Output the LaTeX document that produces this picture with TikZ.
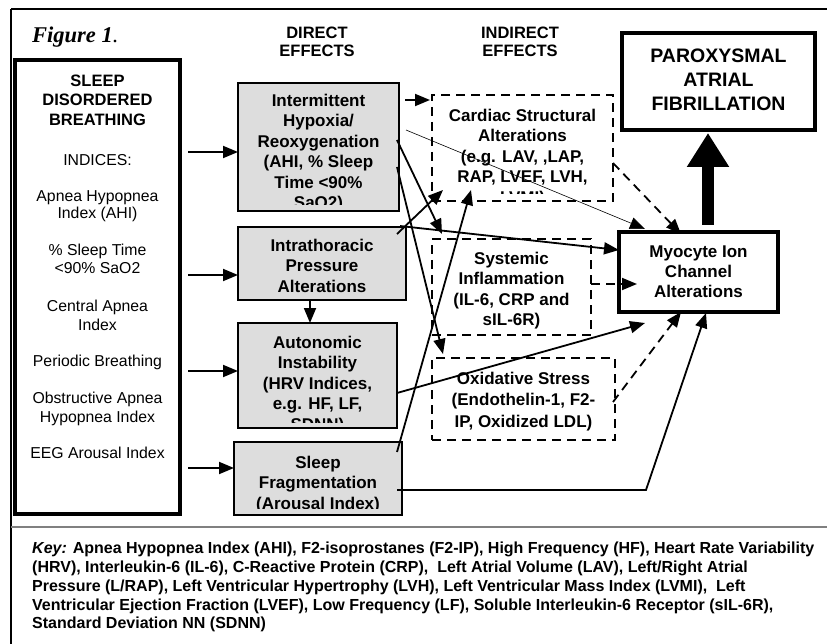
\documentclass[tikz,border=0pt]{standalone}
\usepackage{fontspec}
\setmainfont{Liberation Sans}
\newfontfamily\figfont{Liberation Serif}
\usetikzlibrary{arrows.meta,calc}

\tikzset{
  graybox/.style={draw, line width=2pt, fill=gray!27, inner sep=0pt, outer sep=0pt},
  dashbox/.style={draw, line width=1.8pt, dash pattern=on 9pt off 6pt, inner sep=0pt, outer sep=0pt},
  thickbox/.style={draw, line width=4pt, fill=white, inner sep=0pt, outer sep=0pt},
  boxtext/.style={anchor=north, align=center, inner sep=0pt, font=\bfseries\fontsize{17}{20.5}\selectfont},
  idxtext/.style={anchor=base, inner sep=0pt, font=\fontsize{15.8}{19}\selectfont},
  arr/.style={line width=1.8pt, -{Triangle[length=15pt,width=12pt]}},
  darr/.style={arr, dash pattern=on 9pt off 6pt},
}

\begin{document}
\begin{tikzpicture}[x=1pt,y=-1pt]

  \useasboundingbox (0,0) rectangle (827,644);

  % frame of the figure
  \draw[line width=2pt] (11,9.5) -- (827,9.5);
  \draw[line width=1.5pt] (11,9.5) -- (11,644);
  \draw[gray,line width=2pt] (11,527) -- (827,527);

  \node[anchor=base west, inner sep=0pt, font=\figfont\fontsize{22.5}{26}\selectfont] (fig) at (32,43)
    {\textbf{\textit{Figure 1}}\textit{.}};

  % column heads
  \node[anchor=north, align=center, inner sep=0pt, font=\bfseries\fontsize{16.5}{18}\selectfont] (direct) at (317,25.3)
    {\strut DIRECT\\EFFECTS};
  \node[anchor=north, align=center, inner sep=0pt, font=\bfseries\fontsize{16.5}{18}\selectfont] (indirect) at (520,25.3)
    {\strut INDIRECT\\EFFECTS};

  % sleep disordered breathing box
  \node[draw, line width=3.5pt, inner sep=0pt, outer sep=0pt, minimum width=165pt, minimum height=454pt] (sdb) at (97.5,287) {};
  \node[anchor=north, align=center, inner sep=0pt, font=\bfseries\fontsize{16.5}{19.5}\selectfont] (sdbhead) at (97.5,72.3)
    {\strut SLEEP\\DISORDERED\\BREATHING};
  \foreach \yy/\txt [count=\i] in {160/INDICES:, 196/Apnea Hypopnea, 213/Index (AHI),
      250/\% Sleep Time, 268/<90\% SaO2, 306/Central Apnea, 325/Index,
      361/Periodic Breathing, 398/Obstructive Apnea, 417/Hypopnea Index, 453/EEG Arousal Index}
  {
    \node[idxtext] (idx\i) at (97.5,\yy+5.6) {\txt};
  }

  % direct effects
  \node[graybox, minimum width=161pt, minimum height=128pt] (hyp) at (318.5,147) {};
  \node[graybox, minimum width=168pt, minimum height=73pt] (itp) at (322,263.5) {};
  \node[graybox, minimum width=159pt, minimum height=105pt] (ans) at (317.5,375.5) {};
  \node[graybox, minimum width=168pt, minimum height=73pt] (frag) at (318,478.5) {};

  % indirect effects
  \node[dashbox, minimum width=181pt, minimum height=106pt] (card) at (522.5,148) {};
  \node[dashbox, minimum width=159pt, minimum height=96pt] (infl) at (511.5,287) {};
  \node[dashbox, minimum width=183pt, minimum height=82pt] (oxid) at (523.5,399) {};

  % outcome boxes
  \node[thickbox, minimum width=159pt, minimum height=80pt] (myo) at (698.5,272) {};
  \node[thickbox, minimum width=193pt, minimum height=97pt] (paf) at (718.5,81.5) {};

  % box texts, cut at the lower margin
  \begin{scope}
    \clip ([yshift=6pt]hyp.south west) rectangle (hyp.north east);
    \node[boxtext] (hyptxt) at ([yshift=-8.75pt]hyp.north)
      {\strut Intermittent\\Hypoxia/\\Reoxygenation\\(AHI, \% Sleep\\Time <90\%\\SaO2)};
  \end{scope}
  \node[boxtext] (itptxt) at ([yshift=-9.75pt]itp.north) {\strut Intrathoracic\\Pressure\\Alterations};
  \begin{scope}
    \clip ([yshift=6pt]ans.south west) rectangle (ans.north east);
    \node[boxtext] (anstxt) at ([yshift=-10.75pt]ans.north)
      {\strut Autonomic\\Instability\\(HRV Indices,\\e.g. HF, LF,\\SDNN)};
  \end{scope}
  \begin{scope}
    \clip ([yshift=7pt]frag.south west) rectangle (frag.north east);
    \node[boxtext] (fragtxt) at ([yshift=-11.75pt]frag.north) {\strut Sleep\\Fragmentation\\(Arousal Index)};
  \end{scope}
  \begin{scope}
    \clip ([yshift=7pt]card.south west) rectangle (card.north east);
    \node[boxtext] (cardtxt) at ([yshift=-11.75pt]card.north)
      {\strut Cardiac Structural\\Alterations\\(e.g. LAV, ,LAP,\\RAP, LVEF, LVH,\\LVMI)};
  \end{scope}
  \node[boxtext] (infltxt) at ([yshift=-10.75pt]infl.north) {\strut Systemic\\Inflammation\\(IL-6, CRP and\\sIL-6R)};
  \node[boxtext, font=\bfseries\fontsize{17}{21.5}\selectfont] (oxidtxt) at ([yshift=-10.75pt]oxid.north)
    {\strut Oxidative Stress\\(Endothelin-1, F2-\\IP, Oxidized LDL)};
  \node[boxtext, font=\bfseries\fontsize{17}{20}\selectfont] (myotxt) at ([yshift=-11.25pt]myo.north)
    {\strut Myocyte Ion\\Channel\\Alterations};
  \node[boxtext, font=\bfseries\fontsize{19.5}{24}\selectfont] (paftxt) at ([yshift=-12.2pt]paf.north)
    {\strut PAROXYSMAL\\ATRIAL\\FIBRILLATION};

  % arrows from the indices
  \draw[arr] ($(sdb.east |- hyp.west)+(8,5)$) -- ($(hyp.west)+(0,5)$);
  \draw[arr] ($(sdb.east |- itp.west)+(8,11.5)$) -- ($(itp.west)+(0,11.5)$);
  \draw[arr] ($(sdb.east |- ans.west)+(8,-4.5)$) -- ($(ans.west)+(0,-4.5)$);
  \draw[arr] ($(sdb.east |- frag.west)+(8,-10.5)$) -- ($(frag.west)+(0,-10.5)$);
  \draw[arr] ($(itp.south)+(-12,0)$) -- ($(ans.north)+(-7.5,0)$);

  % direct to indirect effects
  \draw[arr] ($(hyp.north east)+(6,17)$) -- ($(card.north west)+(-2,5)$);
  \draw[arr] ($(hyp.north east)+(-2,57)$) -- ($(infl.north west)+(10,-5)$);
  \draw[arr] ($(hyp.north east)+(-2,84)$) -- ($(oxid.north west)+(11,-4)$);
  \draw[arr] ($(itp.north east)+(-9,7)$) -- ($(card.south west)+(11,-11)$);
  \draw[arr] ($(frag.north east)+(-5,10)$) -- ($(card.south west)+(39,-11)$);

  % into the myocyte box
  \draw[arr, line width=0.6pt] ($(hyp.north east)+(7,47)$) -- ($(myo.north west)+(26,-3)$);
  \draw[arr] ($(itp.north east)+(-6,-1)$) -- ($(myo.north west)+(0,18)$);
  \draw[arr] ($(ans.east)+(0,17.5)$) -- ($(myo.south west)+(26,11)$);
  \draw[arr] ($(frag.east)+(-5,11.5)$) -- ($(frag.east)+(244,11.5)$) -- ($(myo.south)+(7.5,1)$);
  \draw[darr] ($(infl.east)+(0,-3)$) -- ($(myo.west)+(18,12)$);
  \draw[darr] ($(card.east)+(0,15)$) -- ($(myo.north)+(-17.5,2)$);
  \draw[darr] ($(oxid.east)+(-2,3)$) -- ($(myo.south)+(-17.5,0)$);

  % to the outcome
  \draw[line width=12pt, -{Triangle[length=34pt,width=40pt]}] ([xshift=9.5pt,yshift=7pt]myo.north) -- ([xshift=-10.5pt,yshift=-3pt]paf.south);

  % key
  \node[anchor=north west, align=left, inner sep=0pt, font=\bfseries\fontsize{16}{18.75}\selectfont] (key) at (32,540.6)
    {\strut\textit{Key:} Apnea Hypopnea Index (AHI), F2-isoprostanes (F2-IP), High Frequency (HF), Heart Rate Variability\\
     (HRV), Interleukin-6 (IL-6), C-Reactive Protein (CRP), \ Left Atrial Volume (LAV), Left/Right Atrial\\
     Pressure (L/RAP), Left Ventricular Hypertrophy (LVH), Left Ventricular Mass Index (LVMI), \ Left\\
     Ventricular Ejection Fraction (LVEF), Low Frequency (LF), Soluble Interleukin-6 Receptor (sIL-6R),\\
     Standard Deviation NN (SDNN)};

\end{tikzpicture}
\end{document}
